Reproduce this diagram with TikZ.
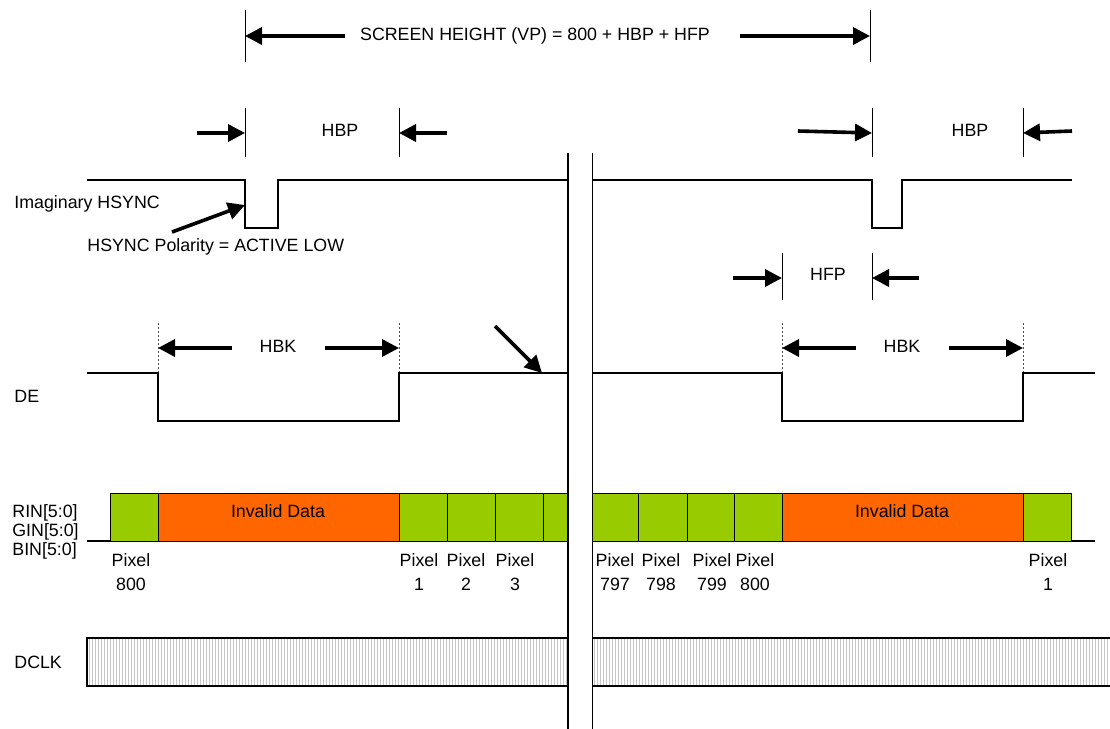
\documentclass[tikz,border=0pt]{standalone}
\usepackage{fontspec}
\setmainfont{Liberation Sans}
\usetikzlibrary{arrows.meta}
\definecolor{pixzel}{HTML}{99CC00}
\definecolor{invoranz}{HTML}{FF6600}
\tikzset{
  sig/.style={line width=1pt},
  mez/.style={line width=0.5pt},
  tecky/.style={line width=0.5pt,gray!60!black,dash pattern=on 1pt off 1pt},
  sip/.style={line width=1.8pt,-{Triangle[length=8.5pt,width=8.5pt]}},
  pix/.style={draw,line width=0.5pt,fill=pixzel},
  inval/.style={draw,line width=0.5pt,fill=invoranz},
  lbl/.style={inner sep=0pt},
  pxl/.style={inner sep=0pt,align=center},
  hrb/.style={line width=0.5pt,gray!45},
  clk/.style={line width=1.2pt},
}

\begin{document}
\begin{tikzpicture}[x=0.5pt,y=-0.5pt,font=\fontsize{8.9}{12}\selectfont]
  \useasboundingbox (0,0) rectangle (1110,729);
  % VP
  \draw[mez] (245,10) -- (245,62) (870,10) -- (870,62);
  \coordinate (vpL) at (245,36);
  \coordinate (vpR) at (870,36);
  \coordinate (vpa) at (345,36);
  \coordinate (vpb) at (740,36);
  \node[lbl] (vp) at (535,36) {SCREEN HEIGHT (VP) = 800 + HBP + HFP};
  \draw[sip] (vpa) -- (vpL);
  \draw[sip] (vpb) -- (vpR);
  % HBP left
  \draw[mez] (245,108) -- (245,157) (399,108) -- (399,157);
  \coordinate (hbp1a) at (197,133);
  \coordinate (hbp1b) at (245,133);
  \coordinate (hbp1c) at (447,133);
  \coordinate (hbp1d) at (399,133);
  \node[lbl] (hbp1) at (340,130) {HBP};
  \draw[sip] (hbp1a) -- (hbp1b);
  \draw[sip] (hbp1c) -- (hbp1d);
  % HBP right
  \draw[mez] (872,108) -- (872,157) (1023,108) -- (1023,157);
  \coordinate (hbp2a) at (798,131);
  \coordinate (hbp2b) at (872,133);
  \coordinate (hbp2c) at (1072,131);
  \coordinate (hbp2d) at (1023,133);
  \node[lbl] (hbp2) at (970,130) {HBP};
  \draw[sip] (hbp2a) -- (hbp2b);
  \draw[sip] (hbp2c) -- (hbp2d);
  % HSYNC
  \draw[sig] (87,180) -- (245,180) -- (245,228) -- (278,228) -- (278,180) -- (568,180);
  \draw[sig] (592,180) -- (872,180) -- (872,228) -- (902,228) -- (902,180) -- (1072,180);
  \node[lbl,anchor=west] (hsy) at (14,204) {Imaginary HSYNC};
  \node[lbl,anchor=west] (pol) at (87,247) {HSYNC Polarity = ACTIVE LOW};
  \coordinate (pola) at (172,232);
  \coordinate (polb) at (245,205);
  \draw[sip] (pola) -- (polb);
  % HFP
  \draw[mez] (782,253) -- (782,300) (872,253) -- (872,300);
  \coordinate (hfpa) at (733,278);
  \coordinate (hfpb) at (782,278);
  \coordinate (hfpc) at (919,278);
  \coordinate (hfpd) at (872,278);
  \node[lbl] (hfp) at (828,274) {HFP};
  \draw[sip] (hfpa) -- (hfpb);
  \draw[sip] (hfpc) -- (hfpd);
  % DE
  \draw[tecky] (158,323) -- (158,373) (399,323) -- (399,373);
  \draw[tecky] (782,323) -- (782,373) (1023,323) -- (1023,373);
  \coordinate (hbk1a) at (232,348);
  \coordinate (hbk1b) at (158,348);
  \coordinate (hbk1c) at (325,348);
  \coordinate (hbk1d) at (399,348);
  \node[lbl] (hbk1) at (278,346) {HBK};
  \draw[sip] (hbk1a) -- (hbk1b);
  \draw[sip] (hbk1c) -- (hbk1d);
  \coordinate (hbk2a) at (856,348);
  \coordinate (hbk2b) at (782,348);
  \coordinate (hbk2c) at (949,348);
  \coordinate (hbk2d) at (1023,348);
  \node[lbl] (hbk2) at (902,346) {HBK};
  \draw[sip] (hbk2a) -- (hbk2b);
  \draw[sip] (hbk2c) -- (hbk2d);
  \draw[sig] (87,373) -- (158,373) -- (158,421) -- (399,421) -- (399,373) -- (568,373);
  \draw[sig] (592,373) -- (782,373) -- (782,421) -- (1023,421) -- (1023,373) -- (1095,373);
  \coordinate (dea) at (495,326);
  \coordinate (deb) at (542,373);
  \draw[sip] (dea) -- (deb);
  \node[lbl,anchor=west] (de) at (14,396) {DE};
  % data
  \draw[sig] (87,541) -- (110,541);
  \draw[sig] (1071,541) -- (1095,541);
  \foreach \a/\b in {110/158,399/447,447/495,495/543,543/568,592/638,638/687,687/734,734/782,1023/1071}
    \draw[pix] (\a,493) rectangle (\b,541);
  \draw[inval] (158,493) rectangle (399,541);
  \draw[inval] (782,493) rectangle (1023,541);
  \node[lbl] (inv1) at (278,511) {Invalid Data};
  \node[lbl] (inv2) at (902,511) {Invalid Data};
  \node[lbl,anchor=west] (rin) at (12,513) {RIN[5:0]};
  \node[lbl,anchor=west] (gin) at (12,532) {GIN[5:0]};
  \node[lbl,anchor=west] (bin) at (12,551) {BIN[5:0]};
  \foreach \x/\n [count=\i] in {131/800,419/1,466/2,515/3,615/797,661/798,712/799,755/800,1048/1}
    \node[pxl] (px\i) at (\x,572) {Pixel\\\n};
  % DCLK
  \foreach \x in {89,92,...,567}
    \draw[hrb] (\x,638) -- (\x,686);
  \foreach \x in {594,597,...,1110}
    \draw[hrb] (\x,638) -- (\x,686);
  \draw[clk] (568,638) -- (87,638) -- (87,686) -- (568,686);
  \draw[clk] (592,638) -- (1110,638) (592,686) -- (1110,686);
  \node[lbl,anchor=west] (dclk) at (14,662) {DCLK};
  % break
  \draw[line width=1.4pt] (568,153) -- (568,729);
  \draw[mez] (592,153) -- (592,729);
\end{tikzpicture}
\end{document}
